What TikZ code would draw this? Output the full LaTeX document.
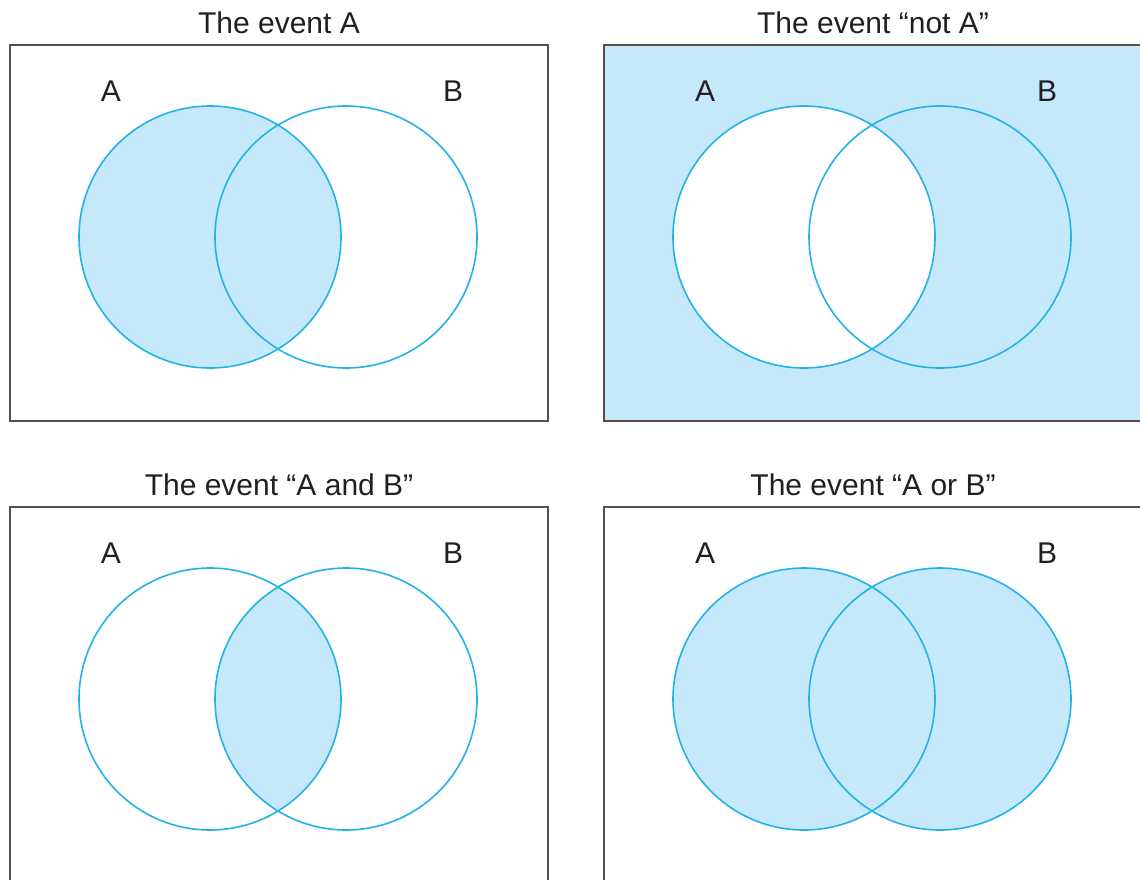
\documentclass[tikz,border=0pt]{standalone}
\usepackage{fontspec}
\setmainfont{Liberation Sans}
\usepackage{tikz}
\usetikzlibrary{positioning}
\definecolor{cFill}{RGB}{197,232,250}
\definecolor{cLine}{RGB}{35,178,232}
\definecolor{cBox}{RGB}{88,78,68}
\definecolor{cText}{RGB}{35,31,32}

\begin{document}
\begin{tikzpicture}[x=1pt, y=-1pt, font=\fontsize{30}{36}\selectfont, text=cText]

    \clip (0,0) rectangle (1140,879);

    % --- Shaded regions ---
    % event A
    \fill[cFill] (210,237) circle (131);
    % not A
    \fill[cFill] (604,45) rectangle (1150,420);
    \fill[white] (804,237) circle (131);
    % A and B
    \begin{scope}
        \clip (210,699) circle (131);
        \fill[cFill] (346,699) circle (131);
    \end{scope}
    % A or B
    \fill[cFill] (804,699) circle (131);
    \fill[cFill] (940,699) circle (131);

    % --- Frames, circles and labels ---
    % \x, \y, \name, \title
    \foreach \x/\y/\name/\title in {
        279/237/tl/The event A,
        873/237/tr/The event “not A”,
        279/699/bl/The event “A and B”,
        873/699/br/The event “A or B”%
    } {
        \draw[cBox, line width=1.8pt] (\x-269, \y-192) rectangle (\x+269, \y+184);
        \draw[cLine, line width=1.6pt] (\x-69, \y) circle (131);
        \draw[cLine, line width=1.6pt] (\x+67, \y) circle (131);
        \node[anchor=base, inner sep=0pt] (\name-title) at (\x, \y-204) {\title};
        \node[anchor=base, inner sep=0pt] (\name-a) at (\x-168, \y-136) {A};
        \node[anchor=base, inner sep=0pt] (\name-b) at (\x+174, \y-136) {B};
    }

\end{tikzpicture}
\end{document}
